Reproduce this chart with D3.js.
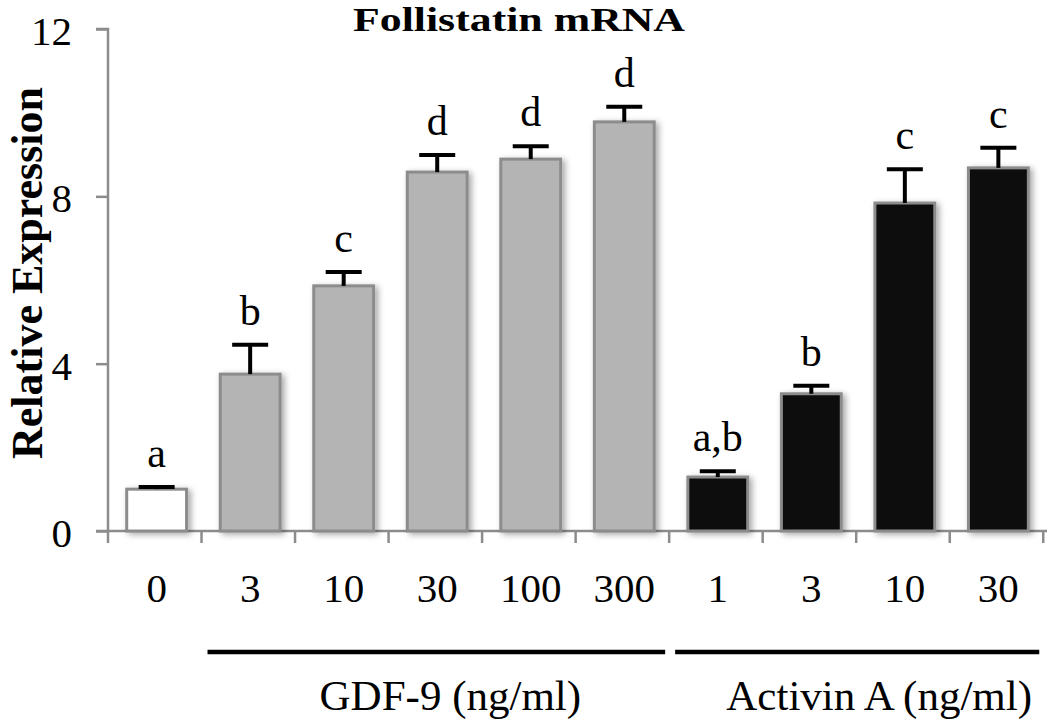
<!DOCTYPE html>
<html><head><meta charset="utf-8">
<script src="https://cdn.jsdelivr.net/npm/d3@7"></script>
<style>body{margin:0;background:#fff}svg{display:block}</style>
</head><body>
<svg id="c" width="1050" height="722"></svg>
<script>
const categories = ["0","3","10","30","100","300","1","3","10","30"];
const values = [1.0, 3.75, 5.86, 8.58, 8.89, 9.78, 1.29, 3.28, 7.84, 8.68];
const errors = [0.05, 0.7, 0.33, 0.41, 0.31, 0.36, 0.14, 0.19, 0.81, 0.48];
const letters = ["a","b","c","d","d","d","a,b","b","c","c"];
const groupKind = ["control","gdf","gdf","gdf","gdf","gdf","act","act","act","act"];
const yTicks = [0,4,8,12];
const groups = [{name:"GDF-9 (ng/ml)", from:1, to:5, shift:14},{name:"Activin A (ng/ml)", from:6, to:9, shift:22}];
const fills = {control:"#ffffff", gdf:"#b4b4b4", act:"#0a0a0a"};

const svg = d3.select("#c");
const serif = "'Liberation Serif','Times New Roman',serif";
const x = d3.scaleBand().domain(d3.range(categories.length)).range([108,1047]).paddingInner(0.36).paddingOuter(0.2);
const y = d3.scaleLinear().domain([0,12]).range([531,29]);
const step = x.step();

const defs = svg.append("defs");
const f = defs.append("filter").attr("id","sh").attr("x","-20%").attr("y","-20%").attr("width","150%").attr("height","150%");
f.append("feDropShadow").attr("dx",3).attr("dy",2).attr("stdDeviation",3).attr("flood-color","#000").attr("flood-opacity",0.35);

// axes
const yAxis = svg.append("g").attr("transform","translate(108,0)")
  .call(d3.axisLeft(y).tickValues(yTicks).tickSize(12).tickPadding(24).tickFormat(d3.format("d")));
yAxis.select(".domain").attr("stroke","#8c8c8c").attr("stroke-width",2.5).attr("d","M-12,29H0V531H-12");
yAxis.selectAll(".tick line").attr("stroke","#8c8c8c").attr("stroke-width",2.5);
yAxis.selectAll(".tick text").attr("font-family",serif).attr("font-size",41).attr("fill","#000").attr("dy","0.38em");

// x baseline and boundary ticks
const xg = svg.append("g");
xg.append("line").attr("x1",108).attr("x2",1047).attr("y1",y(0)).attr("y2",y(0)).attr("stroke","#8c8c8c").attr("stroke-width",2.5);
xg.selectAll("line.bt").data(d3.range(categories.length+1)).join("line").attr("class","bt")
  .attr("x1",i=>108+i*step).attr("x2",i=>108+i*step).attr("y1",y(0)).attr("y2",y(0)+12)
  .attr("stroke","#8c8c8c").attr("stroke-width",2.5);
xg.selectAll("text.cat").data(categories).join("text").attr("class","cat")
  .attr("x",(d,i)=>x(i)+x.bandwidth()/2).attr("y",602)
  .attr("text-anchor","middle").attr("font-family",serif).attr("font-size",41).text(d=>d);

// bars
svg.selectAll("rect.bar").data(values).join("rect").attr("class","bar")
  .attr("x",(d,i)=>x(i)).attr("width",x.bandwidth())
  .attr("y",d=>y(d)).attr("height",d=>y(0)-y(d))
  .attr("fill",(d,i)=>fills[groupKind[i]]).attr("stroke","#8c8c8c").attr("stroke-width",3)
  .attr("filter","url(#sh)");

// error bars
const eg = svg.append("g").attr("stroke","#000").attr("stroke-width",4);
values.forEach((v,i)=>{
  const cx = x(i)+x.bandwidth()/2;
  eg.append("line").attr("x1",cx).attr("x2",cx).attr("y1",y(v)).attr("y2",y(v+errors[i]));
  eg.append("line").attr("x1",cx-18).attr("x2",cx+18).attr("y1",y(v+errors[i])).attr("y2",y(v+errors[i]));
});

// letters
svg.selectAll("text.lt").data(letters).join("text").attr("class","lt")
  .attr("x",(d,i)=>x(i)+x.bandwidth()/2).attr("y",(d,i)=>y(values[i]+errors[i])-20)
  .attr("text-anchor","middle").attr("font-family",serif).attr("font-size",42).text(d=>d);

// group lines and labels
groups.forEach(g=>{
  const x1 = 108+g.from*step + 6, x2 = 108+(g.to+1)*step - 4;
  svg.append("line").attr("x1",x1).attr("x2",x2).attr("y1",652).attr("y2",652).attr("stroke","#000").attr("stroke-width",4.5);
  svg.append("text").attr("x",(x1+x2)/2 + g.shift).attr("y",710).attr("text-anchor","middle")
    .attr("font-family",serif).attr("font-size",43).text(g.name);
});

// title
svg.append("text").attr("x",519).attr("y",31).attr("text-anchor","middle")
  .attr("font-family",serif).attr("font-weight","bold").attr("font-size",34.5)
  .attr("textLength",332).attr("lengthAdjust","spacingAndGlyphs").text("Follistatin mRNA");

// y label
svg.append("text").attr("transform","translate(42,273) rotate(-90)").attr("text-anchor","middle")
  .attr("font-family",serif).attr("font-weight","bold").attr("font-size",44).text("Relative Expression");
</script>
</body></html>
